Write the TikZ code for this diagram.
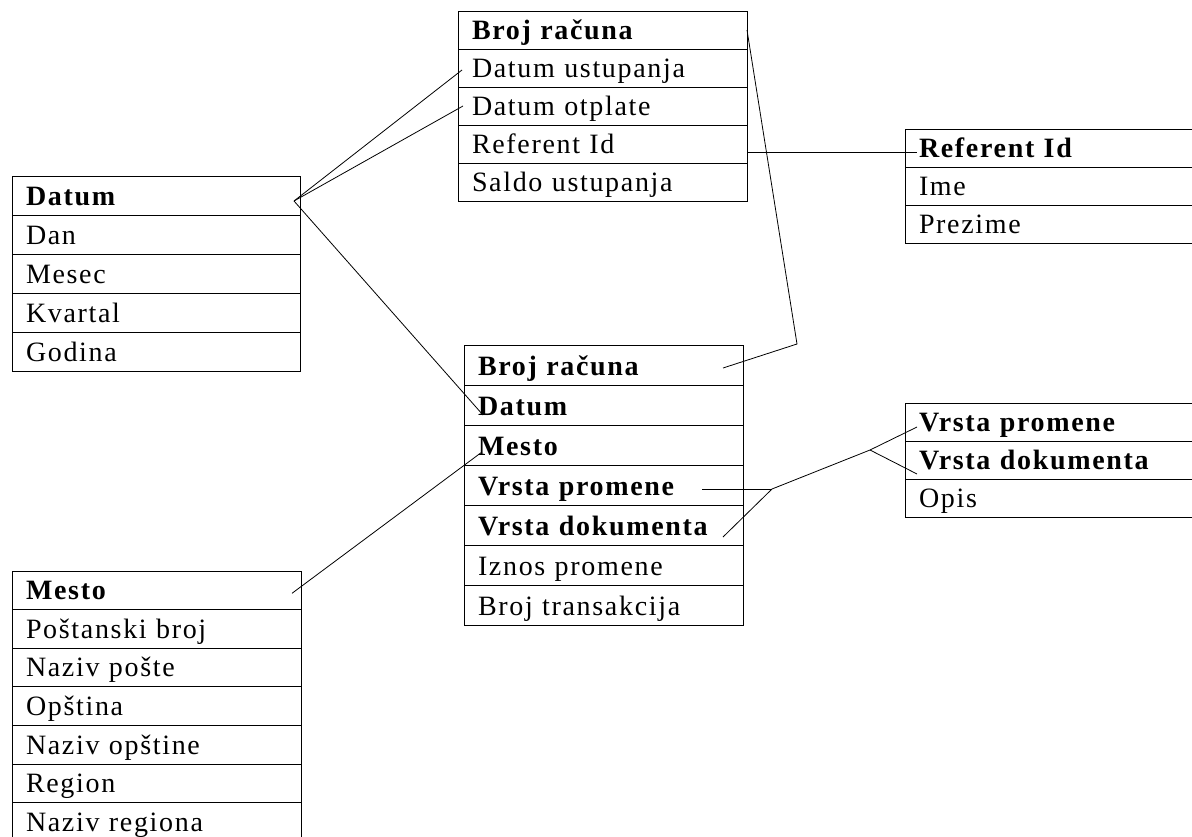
\documentclass[tikz,border=0pt]{standalone}
\usepackage{fontspec}
\setmainfont{Liberation Serif}[LetterSpace=6]
\usetikzlibrary{calc}
\tikzset{
  cell/.style={draw, line width=1pt, rectangle, anchor=north west,
    inner xsep=14pt, inner ysep=0pt, outer sep=0pt, align=left,
    font=\fontsize{28}{30}\selectfont},
  link/.style={draw, line width=0.8pt},
}
% one table: name, left x, top y, width, row height, list of rows
\newcommand\erTable[6]{%
  \pgfmathsetmacro\erTW{#4-28}%
  \pgfmathsetmacro\erTH{#5-10}%
  \foreach \lbl [count=\i] in {#6}{%
    \node[cell, text width=\erTW pt, text height=\erTH pt, text depth=10pt,
      minimum width=#4pt, minimum height=#5pt] (#1-\i) at ({#2},{#3+(\i-1)*#5}) {\lbl};
  }%
}
\begin{document}
\begin{tikzpicture}[x=1pt, y=-1pt]
\clip (0,0) rectangle (1192,836);
\fill[white] (0,0) rectangle (1192,836);

\erTable{racun}{458}{11}{289}{38}{{\textbf{Broj računa}},Datum ustupanja,Datum otplate,Referent Id,Saldo ustupanja}
\erTable{datum}{12}{176}{288}{39}{{\textbf{Datum}},Dan,Mesec,Kvartal,Godina}
\erTable{fact}{464}{345}{279}{40}{{\textbf{Broj računa}},{\textbf{Datum}},{\textbf{Mesto}},{\textbf{Vrsta promene}},{\textbf{Vrsta dokumenta}},Iznos promene,Broj transakcija}
\erTable{ref}{905}{129}{300}{38}{{\textbf{Referent Id}},Ime,Prezime}
\erTable{vp}{905}{403}{300}{38}{{\textbf{Vrsta promene}},{\textbf{Vrsta dokumenta}},Opis}
\erTable{mesto}{12}{571}{289}{38.6}{{\textbf{Mesto}},Poštanski broj,Naziv pošte,Opština,Naziv opštine,Region,Naziv regiona}

% date dimension links
\coordinate (jd) at ($(datum-1.east)+(-6,5.5)$);
\draw[link] (jd) -- ($(racun-2.west)+(4,2)$);
\draw[link] (jd) -- ($(racun-3.west)+(5,0)$);
\draw[link] (jd) -- ($(fact-2.west)+(19,10)$);

% account link
\coordinate (bend) at (797,344);
\draw[link] (racun-1.east) -- (bend) -- ($(fact-1.east)+(-20,3)$);

% referent link
\draw[link] ($(racun-4.east)+(0,8)$) -- ($(ref-1.west)+(12,4)$);

% place link
\draw[link] ($(mesto-1.east)+(-9,3)$) -- ($(fact-3.west)+(18,7)$);

% change / document type link
\coordinate (jk) at (772,489);
\coordinate (jl) at (870,450);
\draw[link] ($(fact-4.east)+(-41,4)$) -- (jk);
\draw[link] ($(fact-5.east)+(-20,12)$) -- (jk) -- (jl) -- ($(vp-1.west)+(12,5)$);
\draw[link] (jl) -- ($(vp-2.west)+(12,14)$);
\end{tikzpicture}
\end{document}
